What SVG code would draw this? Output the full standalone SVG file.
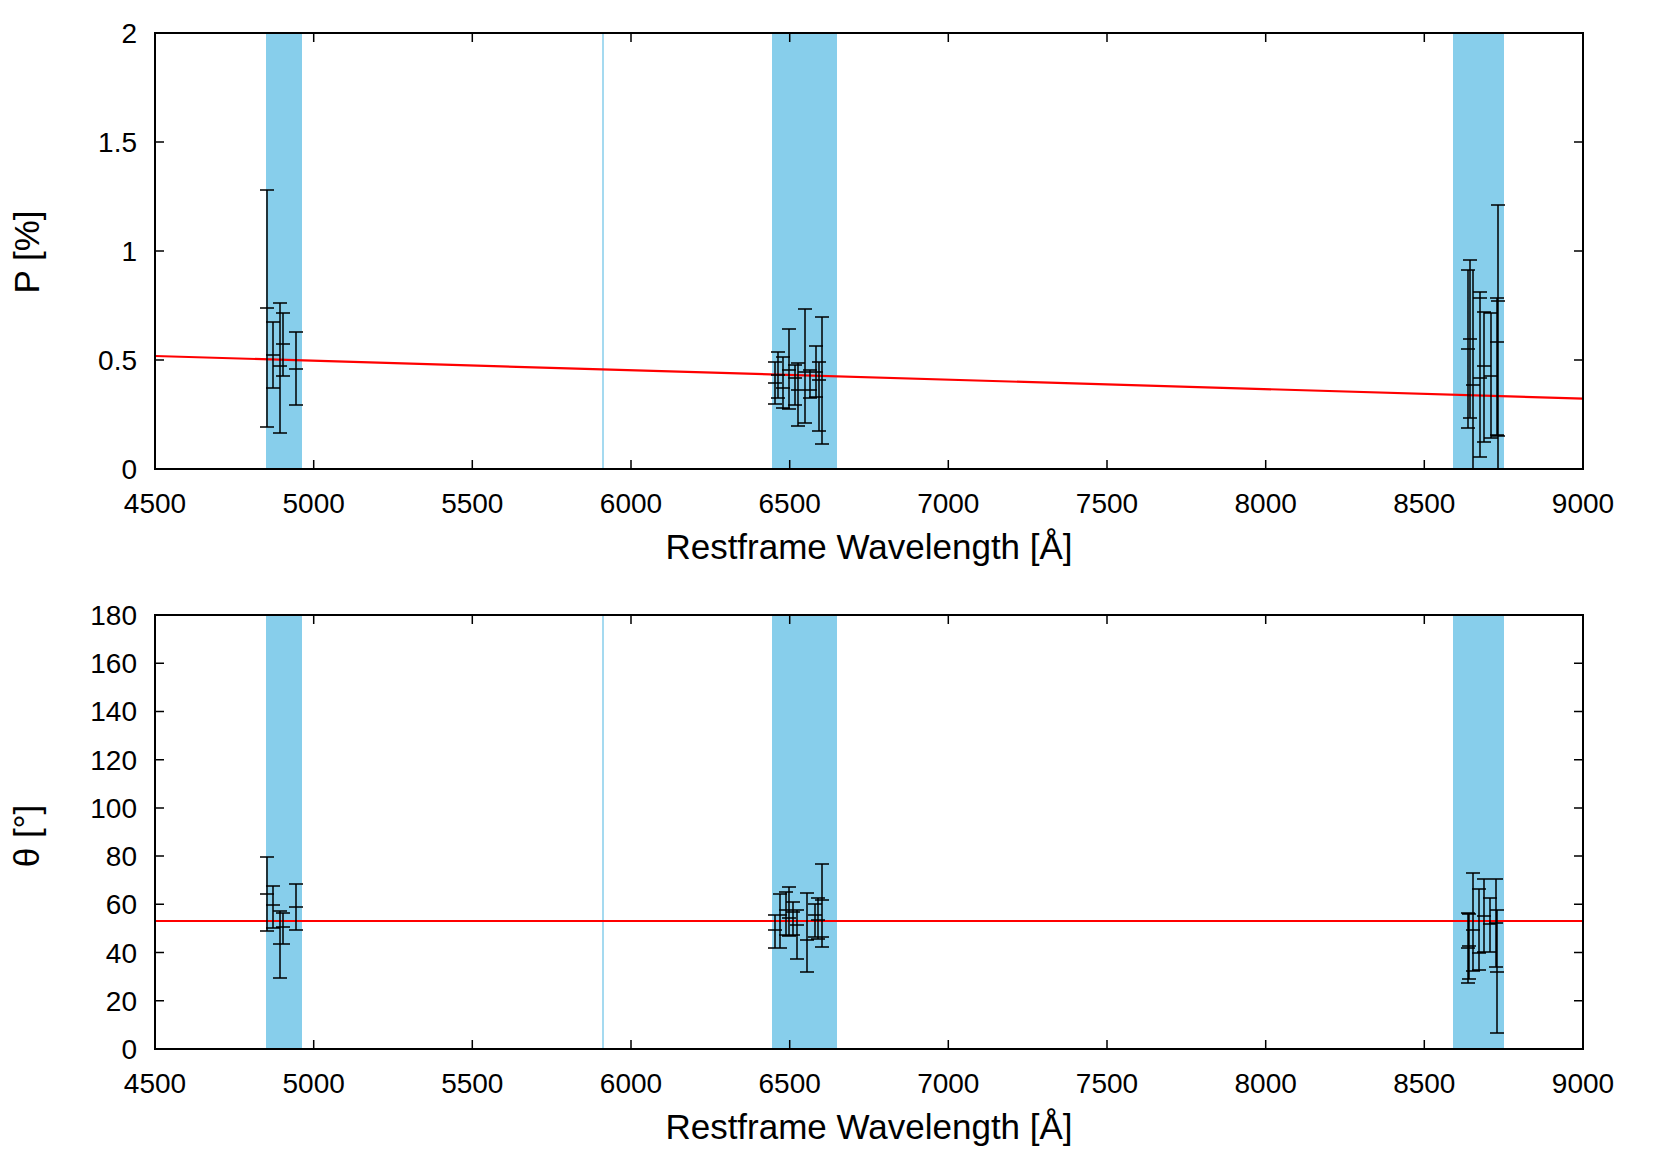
<svg xmlns="http://www.w3.org/2000/svg" width="1661" height="1163" viewBox="0 0 1661 1163">
<style>
text{font-family:"Liberation Sans",Arial,sans-serif;fill:#000}
.tk{font-size:28px}
.ttl{font-size:35px}
.band{fill:#87ceeb}
.ax{fill:none;stroke:#000;stroke-width:2}
.tick{stroke:#000;stroke-width:1.5}
.eb{fill:none;stroke:#000;stroke-width:1.5}
.fit{stroke:#ff0000;stroke-width:2.2}
</style>
<rect width="1661" height="1163" fill="#fff"/>
<g id="top-panel">
<rect class="band" x="266" y="33" width="36" height="436"/>
<rect class="band" x="772" y="33" width="65" height="436"/>
<rect class="band" x="1453" y="33" width="51" height="436"/>
<line x1="603" y1="33" x2="603" y2="469" stroke="#87ceeb" stroke-width="1.5"/>
<line class="fit" x1="155" y1="356" x2="1583" y2="398.6"/>
<path class="eb" d="M260 190h14M267 190V427M260 427h14M260 308h14
M266 322h14M273 322V388M266 388h14M266 355h14
M273 303h14M280 303V433M273 433h14M273 366h14
M276 313h14M283 313V376M276 376h14M276 344h14
M289 332h14M296 332V405M289 405h14M289 369h14
M768 362h14M775 362V404M768 404h14M768 383h14
M771 352h14M778 352V398M771 398h14M771 375h14
M776 357h14M783 357V408M776 408h14M776 388h14
M782 329h14M789 329V409M782 409h14M782 370h14
M788 365h14M795 365V405M788 405h14M788 378h14
M791 363h14M798 363V426M791 426h14M791 390h14
M798 309h14M805 309V423M798 423h14M798 372h14
M803 370h14M810 370V398M803 398h14M803 390h14
M809 346h14M816 346V397M809 397h14M809 372h14
M812 362h14M819 362V431M812 431h14M812 380h14
M815 317h14M822 317V444M815 444h14
M1461 270h14M1468 270V428M1461 428h14M1461 349h14
M1463 260h14M1470 260V418M1463 418h14M1463 339h14
M1473 270V469M1466 385h14
M1473 292h14M1480 292V457M1473 457h14M1473 298h14M1473 378h14
M1477 312h14M1484 312V442M1477 442h14M1477 366h14
M1484 313h14M1491 313V438M1484 438h14M1484 376h14
M1490 298h14M1497 298V435M1490 435h14M1490 342h14
M1491 205h14M1498 205V469M1491 301h14M1491 436h14"/>
<rect class="ax" x="155" y="33" width="1428" height="436"/>
<path class="tick" d="M155 469v-9M313.7 469v-9M472.3 469v-9M631 469v-9M789.7 469v-9M948.3 469v-9M1107 469v-9M1265.7 469v-9M1424.3 469v-9M1583 469v-9
M155 33v9M313.7 33v9M472.3 33v9M631 33v9M789.7 33v9M948.3 33v9M1107 33v9M1265.7 33v9M1424.3 33v9M1583 33v9
M155 360h9M155 251h9M155 142h9M1583 360h-9M1583 251h-9M1583 142h-9"/>
<g class="tk" text-anchor="end">
<text x="137" y="479">0</text><text x="137" y="370">0.5</text><text x="137" y="261">1</text><text x="137" y="152">1.5</text><text x="137" y="43">2</text>
</g>
<g class="tk" text-anchor="middle">
<text x="155" y="513">4500</text><text x="313.7" y="513">5000</text><text x="472.3" y="513">5500</text><text x="631" y="513">6000</text><text x="789.7" y="513">6500</text><text x="948.3" y="513">7000</text><text x="1107" y="513">7500</text><text x="1265.7" y="513">8000</text><text x="1424.3" y="513">8500</text><text x="1583" y="513">9000</text>
</g>
<text class="ttl" x="869" y="559" text-anchor="middle">Restframe Wavelength [Å]</text>
<text class="ttl" transform="translate(39 252) rotate(-90)" text-anchor="middle">P [%]</text>
</g>
<g id="bottom-panel">
<rect class="band" x="266" y="615" width="36" height="434"/>
<rect class="band" x="772" y="615" width="65" height="434"/>
<rect class="band" x="1453" y="615" width="51" height="434"/>
<line x1="603" y1="615" x2="603" y2="1049" stroke="#87ceeb" stroke-width="1.5"/>
<line class="fit" x1="155" y1="921" x2="1583" y2="921"/>
<path class="eb" d="M260 857h14M267 857V931M260 931h14M260 894h14
M266 886h14M273 886V928M266 928h14M266 905h14
M273 911h14M280 911V978M273 978h14M273 944h14
M276 913h14M283 913V944M276 944h14M276 927h14
M289 884h14M296 884V930M289 930h14M289 907h14
M768 915h14M775 915V948M768 948h14M768 930h14
M773 894h14M780 894V948M773 948h14M773 915h14
M779 892h14M786 892V935M779 935h14M779 910h14
M782 887h14M789 887V936M782 936h14M782 918h14
M786 902h14M793 902V935M786 935h14M786 912h14
M790 910h14M797 910V959M790 959h14M790 925h14
M800 893h14M807 893V972M800 972h14M800 940h14
M808 904h14M815 904V937M808 937h14M808 915h14
M811 898h14M818 898V939M811 939h14M811 920h14
M815 864h14M822 864V947M815 947h14M815 900h14M815 937h14
M1461 913h14M1468 913V983M1461 983h14M1461 948h14
M1462 914h14M1469 914V979M1462 979h14M1462 946h14
M1466 873h14M1473 873V971M1466 971h14M1466 930h14
M1472 889h14M1479 889V970M1472 970h14M1472 953h14
M1477 879h14M1484 879V952M1477 952h14M1477 916h14
M1483 898h14M1490 898V952M1483 952h14M1483 924h14
M1489 879h14M1496 879V967M1489 967h14M1489 923h14
M1490 910h14M1497 910V1033M1490 1033h14M1490 972h14"/>
<rect class="ax" x="155" y="615" width="1428" height="434"/>
<path class="tick" d="M155 1049v-9M313.7 1049v-9M472.3 1049v-9M631 1049v-9M789.7 1049v-9M948.3 1049v-9M1107 1049v-9M1265.7 1049v-9M1424.3 1049v-9M1583 1049v-9
M155 615v9M313.7 615v9M472.3 615v9M631 615v9M789.7 615v9M948.3 615v9M1107 615v9M1265.7 615v9M1424.3 615v9M1583 615v9
M155 1000.8h9M155 952.6h9M155 904.3h9M155 856.1h9M155 807.9h9M155 759.7h9M155 711.5h9M155 663.2h9
M1583 1000.8h-9M1583 952.6h-9M1583 904.3h-9M1583 856.1h-9M1583 807.9h-9M1583 759.7h-9M1583 711.5h-9M1583 663.2h-9"/>
<g class="tk" text-anchor="end">
<text x="137" y="1059">0</text><text x="137" y="1011">20</text><text x="137" y="963">40</text><text x="137" y="914">60</text><text x="137" y="866">80</text><text x="137" y="818">100</text><text x="137" y="770">120</text><text x="137" y="721">140</text><text x="137" y="673">160</text><text x="137" y="625">180</text>
</g>
<g class="tk" text-anchor="middle">
<text x="155" y="1093">4500</text><text x="313.7" y="1093">5000</text><text x="472.3" y="1093">5500</text><text x="631" y="1093">6000</text><text x="789.7" y="1093">6500</text><text x="948.3" y="1093">7000</text><text x="1107" y="1093">7500</text><text x="1265.7" y="1093">8000</text><text x="1424.3" y="1093">8500</text><text x="1583" y="1093">9000</text>
</g>
<text class="ttl" x="869" y="1139" text-anchor="middle">Restframe Wavelength [Å]</text>
<text class="ttl" transform="translate(39 836) rotate(-90)" text-anchor="middle">θ [°]</text>
</g>
</svg>
